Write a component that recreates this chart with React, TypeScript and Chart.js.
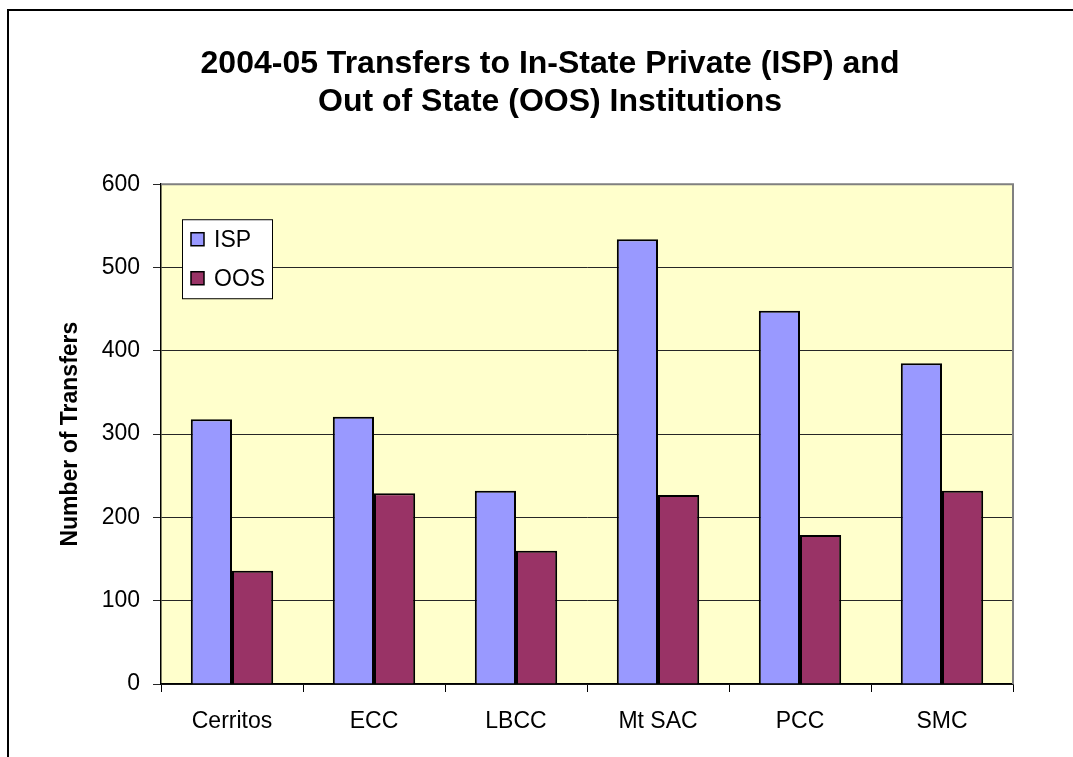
import React, { useEffect, useRef } from "react";
import { Chart, registerables } from "chart.js";

Chart.register(...registerables);

const categories = ["Cerritos", "ECC", "LBCC", "Mt SAC", "PCC", "SMC"];
const ispValues = [318, 321, 232, 534, 448, 385];
const oosValues = [136, 229, 160, 227, 179, 232];
const seriesLabels = ["ISP", "OOS"];
const titleLines = ["2004-05 Transfers to In-State Private (ISP) and", "Out of State (OOS) Institutions"];
const yAxisTitle = "Number of Transfers";

const FONT = "'Liberation Sans', Arial, sans-serif";
const CANVAS_W = 1102;
const CANVAS_H = 746;
const PAD_LEFT = 78;

const plotPlugin = {
  id: "plotDecor",
  beforeDraw(chart: any) {
    const { ctx, chartArea } = chart;
    ctx.save();
    ctx.fillStyle = "#FFFFCC";
    ctx.fillRect(chartArea.left, chartArea.top, chartArea.right - chartArea.left, chartArea.bottom - chartArea.top);
    ctx.restore();
  },
  afterDatasetsDraw(chart: any) {
    const { ctx, chartArea } = chart;
    ctx.save();
    ctx.strokeStyle = "#808080";
    ctx.lineWidth = 2;
    ctx.beginPath();
    ctx.moveTo(chartArea.left, chartArea.top);
    ctx.lineTo(chartArea.right, chartArea.top);
    ctx.lineTo(chartArea.right, chartArea.bottom);
    ctx.stroke();

    const lx = chartArea.left + 21;
    const ly = chartArea.top + 35;
    const lw = 90;
    const lh = 79;
    ctx.fillStyle = "#FFFFFF";
    ctx.fillRect(lx, ly, lw, lh);
    ctx.strokeStyle = "#000000";
    ctx.lineWidth = 1;
    ctx.strokeRect(lx + 0.5, ly + 0.5, lw, lh);
    ctx.font = `23px ${FONT}`;
    ctx.textBaseline = "middle";
    ctx.textAlign = "left";
    chart.data.datasets.forEach((ds: any, i: number) => {
      const cy = ly + 20 + i * 39;
      ctx.fillStyle = ds.backgroundColor;
      ctx.fillRect(lx + 9, cy - 6.5, 13, 13);
      ctx.strokeStyle = "#000";
      ctx.lineWidth = 1.5;
      ctx.strokeRect(lx + 9, cy - 6.5, 13, 13);
      ctx.fillStyle = "#000";
      ctx.fillText(ds.label, lx + 32, cy + 1);
    });
    ctx.restore();
  },
};

export default function App() {
  const ref = useRef<HTMLCanvasElement | null>(null);
  useEffect(() => {
    if (!ref.current) return;
    const chart = new Chart(ref.current, {
      type: "bar",
      data: {
        labels: categories,
        datasets: [
          {
            label: seriesLabels[0],
            data: ispValues,
            backgroundColor: "#9999FF",
            borderColor: "#000000",
            borderWidth: 2,
            categoryPercentage: 0.58,
            barPercentage: 1,
          },
          {
            label: seriesLabels[1],
            data: oosValues,
            backgroundColor: "#993366",
            borderColor: "#000000",
            borderWidth: 2,
            categoryPercentage: 0.58,
            barPercentage: 1,
          },
        ],
      },
      options: {
        responsive: false,
        animation: false,
        devicePixelRatio: 1,
        layout: { padding: { left: PAD_LEFT, right: 98, top: 0, bottom: 0 } },
        plugins: {
          legend: { display: false },
          tooltip: { enabled: false },
          title: {
            display: true,
            text: titleLines,
            color: "#000",
            font: { family: FONT, size: 32, weight: "bold", lineHeight: 1.16 },
            padding: { top: 35, bottom: 64 },
          },
        },
        scales: {
          x: {
            offset: true,
            grid: {
              offset: true,
              drawOnChartArea: false,
              drawTicks: true,
              tickLength: 8,
              color: "#000",
            },
            border: { display: true, color: "#000", width: 1.5 },
            ticks: { color: "#000", font: { family: FONT, size: 23 }, padding: 16, maxRotation: 0 },
            afterFit(scale: any) {
              scale.height = CANVAS_H - 673;
            },
          },
          y: {
            min: 0,
            max: 600,
            ticks: { stepSize: 100, color: "#000", font: { family: FONT, size: 23 }, padding: 13 },
            grid: { color: "#262626", lineWidth: 1, tickLength: 8, drawTicks: true },
            border: { display: true, color: "#000", width: 1.5 },
            title: {
              display: true,
              text: yAxisTitle,
              color: "#000",
              font: { family: FONT, size: 23, weight: "bold" },
              padding: { top: 62 - PAD_LEFT - 13.8, bottom: 0 },
            },
            afterFit(scale: any) {
              scale.width = 152 - PAD_LEFT;
            },
          },
        },
      },
      plugins: [plotPlugin],
    });
    return () => chart.destroy();
  }, []);

  return (
    <div style={{ position: "fixed", left: 0, top: 0, width: 1073, height: 757, overflow: "hidden", background: "#fff" }}>
      <div
        style={{
          position: "absolute",
          left: 7,
          top: 9,
          width: 1120,
          height: 800,
          border: "2px solid #000",
          boxSizing: "border-box",
        }}
      />
      <canvas
        ref={ref}
        width={CANVAS_W}
        height={CANVAS_H}
        style={{ position: "absolute", left: 9, top: 11, width: CANVAS_W, height: CANVAS_H }}
      />
    </div>
  );
}
